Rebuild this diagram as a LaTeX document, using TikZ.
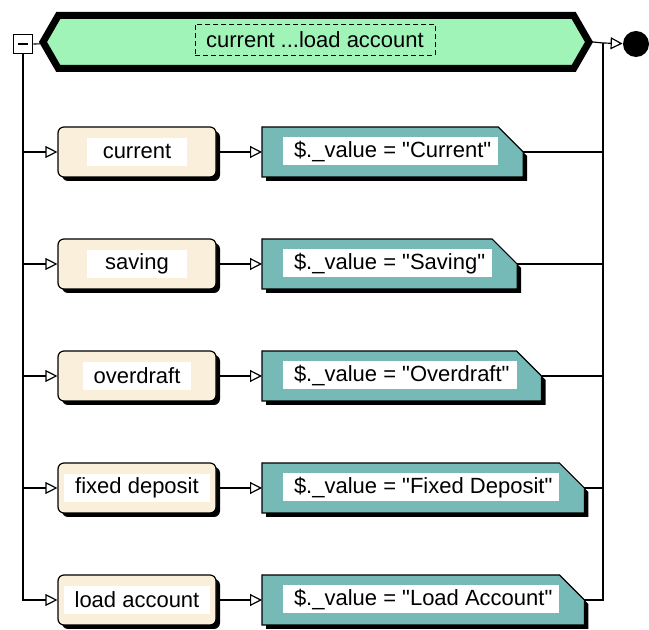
\documentclass[tikz,border=0pt]{standalone}
\usepackage{fontspec}
\setmainfont{Liberation Sans}
\usetikzlibrary{shapes.symbols,shadows,arrows.meta,backgrounds}
\definecolor{bannergreen}{RGB}{160,244,184}
\definecolor{casecream}{RGB}{250,239,219}
\definecolor{valteal}{RGB}{118,186,184}
% teal value box with cut corner, its shadow and its white label field
\newcommand\valframe[1]{%
	\fill [black,transform canvas={shift={(2pt,-2pt)}}] (#1.south west) -- (#1.south east) -- (#1.east) -- ([xshift=-12.5pt]#1.north east) -- (#1.north west) -- cycle;
	\filldraw [draw=black,line width=0.6pt,fill=valteal] (#1.south west) -- (#1.south east) -- (#1.east) -- ([xshift=-12.5pt]#1.north east) -- (#1.north west) -- cycle;
	\fill [white] ([shift={(10.5pt,6pt)}]#1.south west) rectangle ([shift={(-12.5pt,-5pt)}]#1.north east);}
\newcommand\qt{\textquotedbl}

\begin{document}
\begin{tikzpicture}[x=0.5pt,y=0.5pt]
	\tikzstyle{every node}+=[font=\fontsize{11}{13}\selectfont]
	\tikzstyle{wire}=[black,line width=0.6pt]
	\tikzstyle{flow}=[wire,-{Triangle[open,fill=white,length=6pt,width=6pt]}]
	\tikzstyle{banner}=[signal,signal to=west and east,signal pointer angle=120,draw=black,line width=3.5pt,fill=bannergreen,minimum width=273pt,minimum height=26.5pt,inner sep=0pt]
	\tikzstyle{titlebox}=[draw=black,line width=0.5pt,dash pattern=on 2.5pt off 1.5pt,minimum width=120pt,minimum height=15.5pt,inner sep=0pt]
	\tikzstyle{collapse}=[draw=black,fill=white,line width=0.8pt,minimum size=9.5pt,inner sep=0pt,path picture={\draw[line width=0.8pt] ([xshift=-2.5pt]path picture bounding box.center) -- ([xshift=2.5pt]path picture bounding box.center);}]
	\tikzstyle{casebox}=[draw=black,line width=0.6pt,fill=casecream,rounded corners=3pt,minimum width=79pt,minimum height=25pt,drop shadow={shadow xshift=2pt,shadow yshift=-2pt,fill=black,opacity=1}]
	\tikzstyle{caselbl}=[fill=white,minimum width=50pt,minimum height=14pt,inner xsep=5.5pt,inner ysep=0pt]
	\tikzstyle{valbox}=[rectangle,minimum height=25pt,inner xsep=16pt,inner ysep=0pt,outer sep=0pt,anchor=west]
	\tikzstyle{endstate}=[circle,fill=black,minimum size=13pt,inner sep=0pt]
	\useasboundingbox (0,0) rectangle (649,-630);

	% header
	\node [banner] (banner) at (316,-42) {};
	\node [titlebox] (title) at (315,-40) {current ...load account};
	\node [collapse] (collapse) at (23,-44) {};
	\node [endstate] (done) at (636,-44) {};
	\coordinate (rjoin) at (603,-43);

	% cases
	\node [casebox] (case1) at (137,-152) {};
	\node [caselbl] (lbl1) at (case1) {current};
	\node [valbox] (val1) at (262,-152) {\$.\_value = \qt Current\qt};
	\node [casebox] (case2) at (137,-264) {};
	\node [caselbl] (lbl2) at (case2) {saving};
	\node [valbox] (val2) at (262,-264) {\$.\_value = \qt Saving\qt};
	\node [casebox] (case3) at (137,-376) {};
	\node [caselbl] (lbl3) at (case3) {overdraft};
	\node [valbox] (val3) at (262,-376) {\$.\_value = \qt Overdraft\qt};
	\node [casebox] (case4) at (137,-488) {};
	\node [caselbl] (lbl4) at (case4) {fixed deposit};
	\node [valbox] (val4) at (262,-488) {\$.\_value = \qt Fixed Deposit\qt};
	\node [casebox] (case5) at (137,-600) {};
	\node [caselbl] (lbl5) at (case5) {load account};
	\node [valbox] (val5) at (262,-600) {\$.\_value = \qt Load Account\qt};

	\begin{scope}[on background layer]
		\valframe{val1}
		\valframe{val2}
		\valframe{val3}
		\valframe{val4}
		\valframe{val5}
	\end{scope}

	% connectors
	\draw [wire] (collapse) -- (banner);
	\draw [wire] (banner.east) -- (rjoin);
	\draw [flow] (rjoin) -- (done);
	\draw [flow] (collapse.south |- case1.west) -- (case1.west);
	\draw [flow] (collapse.south |- case2.west) -- (case2.west);
	\draw [flow] (collapse.south |- case3.west) -- (case3.west);
	\draw [flow] (collapse.south |- case4.west) -- (case4.west);
	\draw [flow] (collapse.south) |- (case5.west);
	\draw [flow] (case1) -- (val1);
	\draw [flow] (case2) -- (val2);
	\draw [flow] (case3) -- (val3);
	\draw [flow] (case4) -- (val4);
	\draw [flow] (case5) -- (val5);
	\draw [wire] (val1.east) -- (val1.east -| rjoin);
	\draw [wire] (val2.east) -- (val2.east -| rjoin);
	\draw [wire] (val3.east) -- (val3.east -| rjoin);
	\draw [wire] (val4.east) -- (val4.east -| rjoin);
	\draw [wire] (val5.east) -| (rjoin);
\end{tikzpicture}
\end{document}
